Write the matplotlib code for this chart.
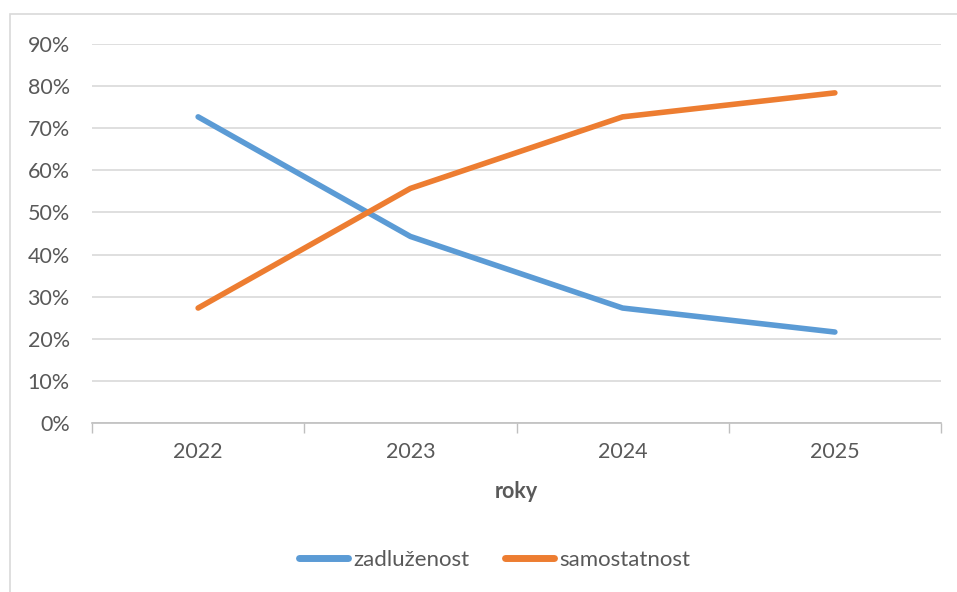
import matplotlib
matplotlib.use("Agg")
import matplotlib.pyplot as plt
from matplotlib.patches import Rectangle
from matplotlib.ticker import FuncFormatter

years = ["2022", "2023", "2024", "2025"]
zadluzenost = [72.7, 44.3, 27.3, 21.6]
samostatnost = [27.3, 55.7, 72.7, 78.4]
y_ticks = [0, 10, 20, 30, 40, 50, 60, 70, 80, 90]

plt.rcParams['font.family'] = ['Lato', 'DejaVu Sans']
txt = '#595959'
fs = 15.5

fig = plt.figure(figsize=(9.57, 5.92), dpi=100)
fig.patches.append(Rectangle((10/957, -0.05), 1.2, 1 - 14/592 + 0.05,
                             transform=fig.transFigure, fill=False,
                             edgecolor='#d9d9d9', linewidth=1.2))
ax = fig.add_axes([92/957, 1 - 423/592, (941-92)/957, (423-44)/592])

x = list(range(len(years)))
ax.plot(x, zadluzenost, color='#5B9BD5', lw=4.0, solid_capstyle='round', label='zadluženost')
ax.plot(x, samostatnost, color='#ED7D31', lw=4.0, solid_capstyle='round', label='samostatnost')

ax.set_xlim(-0.5, 3.5)
ax.set_ylim(0, 90)
ax.set_yticks(y_ticks)
ax.yaxis.set_major_formatter(FuncFormatter(lambda v, p: f"{int(v)}%"))
ax.set_xticks(x)
ax.set_xticklabels(years)
ax.set_xticks([-0.5, 0.5, 1.5, 2.5, 3.5], minor=True)
ax.tick_params(axis='x', which='major', length=0, pad=14, labelsize=fs, labelcolor=txt)
ax.tick_params(axis='x', which='minor', length=7, color='#bfbfbf', width=1)
ax.tick_params(axis='y', length=0, pad=16, labelsize=fs, labelcolor=txt)
ax.grid(axis='y', color='#d9d9d9', lw=1.2)
ax.set_axisbelow(True)
for s in ['top', 'right', 'left']:
    ax.spines[s].set_visible(False)
ax.spines['bottom'].set_color('#bfbfbf')
ax.spines['bottom'].set_linewidth(1.2)

ax.set_xlabel('roky', fontsize=fs, fontweight='bold', color=txt, labelpad=13)

fig.legend(loc='center', bbox_to_anchor=(495/957, 1 - 560/592), ncol=2, frameon=False,
           fontsize=16, labelcolor=txt, handlelength=2.2, columnspacing=1.6,
           handletextpad=0.25)
for line in fig.legends[0].get_lines():
    line.set_linewidth(5)

fig.savefig('out.png', dpi=100)
